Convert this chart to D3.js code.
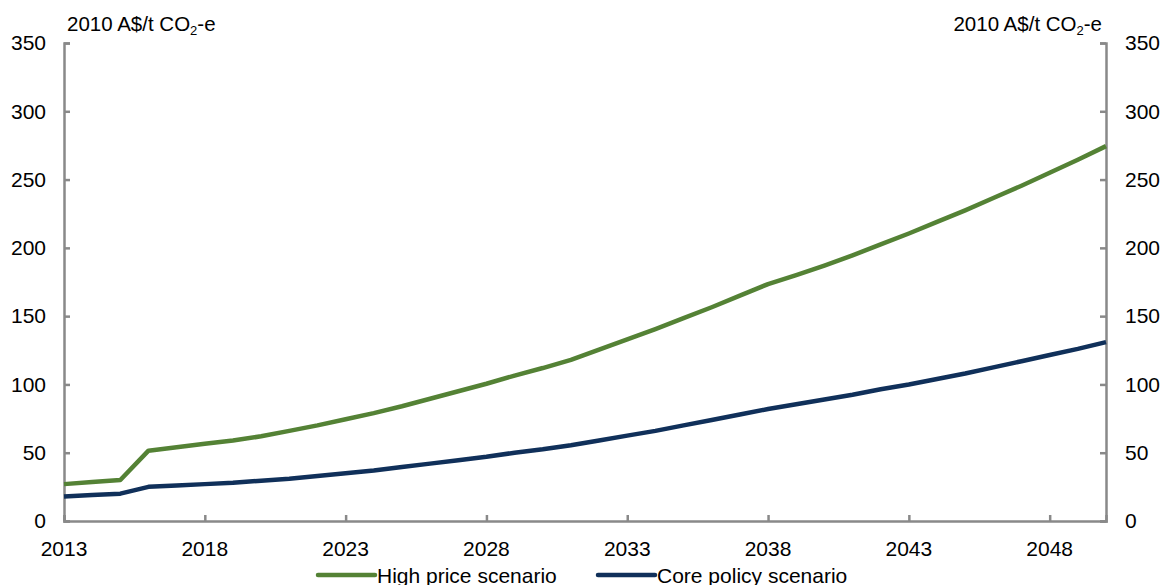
<!DOCTYPE html>
<html>
<head>
<meta charset="utf-8">
<script src="https://cdn.jsdelivr.net/npm/d3@7/dist/d3.min.js"></script>
<style>
  html, body { margin: 0; padding: 0; background: #fff; }
  svg { display: block; font-family: "Liberation Sans", Arial, sans-serif; }
</style>
</head>
<body>
<svg id="chart" width="1164" height="585"></svg>
<script>
const years = d3.range(2013, 2051);
const highPrice = [27, 28.5, 30, 51.5, 54, 56.5, 59, 62, 66, 70, 74.5, 79, 84, 89.5, 95, 100.5, 106.5, 112, 118,
  125.5, 133, 140.5, 148.5, 156.5, 165, 173.5, 180, 187, 194.5, 202.5, 210.5, 219, 227.5, 236.5, 245.5, 255, 264.5, 274.5];
const corePolicy = [18, 19, 20, 25, 26, 27, 28, 29.5, 31, 33, 35, 37, 39.5, 42, 44.5, 47, 50, 52.5, 55.5,
  59, 62.5, 66, 70, 74, 78, 82, 85.5, 89, 92.5, 96.5, 100, 104, 108, 112.5, 117, 121.5, 126, 131];
const xTicks = [2013, 2018, 2023, 2028, 2033, 2038, 2043, 2048];
const yTicks = [0, 50, 100, 150, 200, 250, 300, 350];
const seriesNames = ["High price scenario", "Core policy scenario"];
const seriesColors = ["#548235", "#10305A"];

const svg = d3.select("#chart");
const mLeft = 64, mRight = 1106, mTop = 43, mBottom = 521;
const axisColor = "#898989";
const fs = 21;

const x = d3.scaleLinear().domain([2013, 2050]).range([mLeft, mRight]);
const y = d3.scaleLinear().domain([0, 350]).range([mBottom, mTop]);

// Left axis
const gL = svg.append("g").attr("transform", `translate(${mLeft},0)`)
  .call(d3.axisRight(y).tickValues(yTicks).tickSize(6).tickFormat(""));
gL.append("g").selectAll("text").data(yTicks).join("text")
  .attr("x", -18).attr("y", d => y(d)).attr("dy", "0.35em")
  .attr("text-anchor", "end").attr("font-size", fs).attr("fill", "#000")
  .text(d => d);

// Right axis
const gR = svg.append("g").attr("transform", `translate(${mRight},0)`)
  .call(d3.axisLeft(y).tickValues(yTicks).tickSize(6).tickFormat(""));
gR.append("g").selectAll("text").data(yTicks).join("text")
  .attr("x", 19).attr("y", d => y(d)).attr("dy", "0.35em")
  .attr("text-anchor", "start").attr("font-size", fs).attr("fill", "#000")
  .text(d => d);

// Bottom axis
const gB = svg.append("g").attr("transform", `translate(0,${mBottom})`)
  .call(d3.axisTop(x).tickValues(xTicks).tickSize(6).tickFormat(""));
gB.append("g").selectAll("text").data(xTicks).join("text")
  .attr("x", d => x(d)).attr("y", 35)
  .attr("text-anchor", "middle").attr("font-size", fs).attr("fill", "#000")
  .text(d => d);

[gL, gR, gB].forEach(g => {
  g.selectAll(".domain").attr("stroke", axisColor).attr("stroke-width", 2.5);
  g.selectAll(".tick line").attr("stroke", axisColor).attr("stroke-width", 2.5);
});

// Unit labels
function unitLabel(xpos, anchor) {
  const t = svg.append("text").attr("x", xpos).attr("y", 31)
    .attr("text-anchor", anchor).attr("font-size", 20.5).attr("fill", "#000");
  t.append("tspan").text("2010 A$/t CO");
  t.append("tspan").attr("font-size", 13).attr("dy", 4).text("2");
  t.append("tspan").attr("dy", -4).text("-e");
}
unitLabel(67, "start");
unitLabel(1102, "end");

// Lines
const line = d3.line().x((d, i) => x(years[i])).y(d => y(d));
[highPrice, corePolicy].forEach((s, i) => {
  svg.append("path").datum(s)
    .attr("fill", "none").attr("stroke", seriesColors[i])
    .attr("stroke-width", 4.5).attr("stroke-linejoin", "round")
    .attr("d", line);
});

// Legend
const legendItems = [{x0: 318, x1: 375}, {x0: 598, x1: 655}];
legendItems.forEach((it, i) => {
  svg.append("line").attr("x1", it.x0).attr("x2", it.x1).attr("y1", 575).attr("y2", 575)
    .attr("stroke", seriesColors[i]).attr("stroke-width", 4.5).attr("stroke-linecap", "round");
  svg.append("text").attr("x", it.x1 + 2).attr("y", 583)
    .attr("font-size", fs).attr("fill", "#000").text(seriesNames[i]);
});
</script>
</body>
</html>
